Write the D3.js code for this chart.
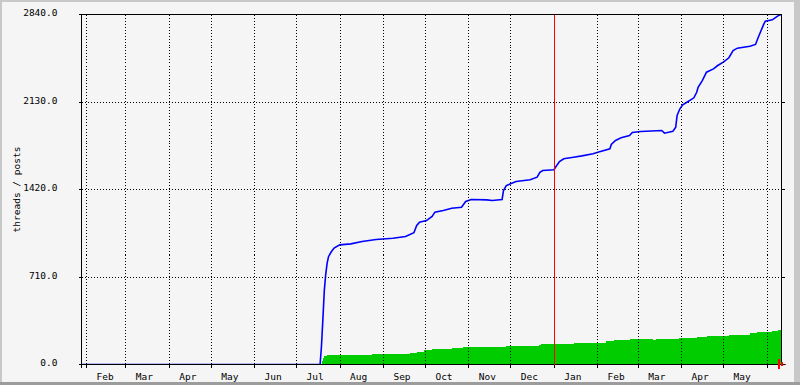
<!DOCTYPE html>
<html><head><meta charset="utf-8">
<script src="https://cdn.jsdelivr.net/npm/d3@7/dist/d3.min.js"></script>
<style>
html,body{margin:0;padding:0;background:#f5f5f5;}
svg{display:block;}
text{font-family:"DejaVu Sans Mono",monospace;font-size:9.5px;fill:#000;}
</style></head><body>
<svg id="c" width="800" height="385"></svg>
<script>
// ---- data ----
const yTicks = [0, 710, 1420, 2130, 2840];
const yTickLabels = ["0.0", "710.0", "1420.0", "2130.0", "2840.0"];
const monthLabels = ["Feb","Mar","Apr","May","Jun","Jul","Aug","Sep","Oct","Nov","Dec","Jan","Feb","Mar","Apr","May"];
const yTitle = "threads / posts";
const markerDate = "2008-01-01";

// blue line (posts)
const postDates = ["2007-01-20","2007-07-18","2007-07-19","2007-07-20","2007-07-21","2007-07-22","2007-07-23","2007-07-24","2007-07-26","2007-07-28",
 "2007-08-01","2007-08-09","2007-08-17","2007-08-27","2007-09-08","2007-09-17","2007-09-23","2007-09-25","2007-09-27","2007-10-02",
 "2007-10-06","2007-10-08","2007-10-14","2007-10-20","2007-10-27","2007-10-30","2007-11-03","2007-11-14","2007-11-18","2007-11-25",
 "2007-11-26","2007-11-28","2007-12-01","2007-12-05","2007-12-15","2007-12-20","2007-12-22","2007-12-24","2008-01-01","2008-01-03",
 "2008-01-05","2008-01-08","2008-01-15","2008-01-21","2008-01-29","2008-02-02","2008-02-10","2008-02-11","2008-02-14","2008-02-18",
 "2008-02-24","2008-02-26","2008-03-03","2008-03-18","2008-03-20","2008-03-26","2008-03-28","2008-03-29","2008-03-31","2008-04-02",
 "2008-04-05","2008-04-10","2008-04-12","2008-04-13","2008-04-16","2008-04-19","2008-04-24","2008-04-27","2008-05-01","2008-05-05",
 "2008-05-08","2008-05-11","2008-05-20","2008-05-24","2008-05-26","2008-05-28","2008-05-30","2008-05-31","2008-06-05","2008-06-07",
 "2008-06-09","2008-06-11"];
const postValues = [0,0,154,370,600,730,820,875,915,945,
 971,979,998,1014,1025,1039,1069,1128,1155,1168,
 1201,1236,1250,1268,1276,1323,1339,1336,1331,1339,
 1412,1452,1466,1485,1499,1520,1560,1574,1580,1615,
 1647,1669,1682,1693,1710,1725,1750,1785,1818,1840,
 1858,1882,1891,1899,1877,1893,1925,2020,2075,2107,
 2128,2164,2209,2250,2304,2372,2399,2426,2453,2489,
 2548,2567,2583,2597,2656,2710,2764,2786,2797,2813,
 2829,2837];

// green area (threads), step levels starting at each date
const threadDates = ["2007-01-20","2007-07-18","2007-07-19","2007-07-20","2007-07-21","2007-07-23","2007-08-24","2007-09-20","2007-09-25","2007-09-30",
 "2007-10-06","2007-10-20","2007-10-28","2007-11-28","2007-12-21","2007-12-23","2008-01-03","2008-01-15","2008-02-07","2008-02-13",
 "2008-02-24","2008-03-12","2008-03-14","2008-03-30","2008-04-12","2008-04-19","2008-05-05","2008-05-20","2008-05-25","2008-06-05",
 "2008-06-09","2008-06-14"];
const threadValues = [0,0,32,54,65,75,84,92,100,114,
 122,130,140,148,160,165,170,178,187,195,
 203,195,203,217,227,235,243,252,262,268,
 276,276];

// ---- layout ----
const parse = d3.timeParse("%Y-%m-%d");
const svg = d3.select("#c");
const W = 800, H = 385;
const L = 81.5, R = 781.5, T = 14.5, B = 364.5;
const t0 = new Date(2007, 0, 28, 13, 40);
const t1 = new Date(2007, 0, 28 + 500, 13, 40);
const x = d3.scaleTime().domain([t0, t1]).range([L, R]);
const y = d3.scaleLinear().domain([0, 2840]).range([B, T]);
const snapX = v => Math.floor(v + 0.3) + 0.5;

// background + 3D frame
svg.append("rect").attr("width", W).attr("height", H).attr("fill", "#f5f5f5");
svg.append("rect").attr("x",0).attr("y",0).attr("width",W).attr("height",2).attr("fill","#c8c8c8");
svg.append("rect").attr("x",0).attr("y",0).attr("width",2).attr("height",H).attr("fill","#c8c8c8");
svg.append("rect").attr("x",794).attr("y",0).attr("width",6).attr("height",H).attr("fill","#c8c8c8");
svg.append("rect").attr("x",0).attr("y",382).attr("width",W).attr("height",3).attr("fill","#9c9c9c");

svg.append("defs").append("clipPath").attr("id","clip")
  .append("rect").attr("x", L).attr("y", T - 1).attr("width", R - L + 0.5).attr("height", B - T + 1.5);

const threads = threadDates.map((d, i) => ({t: parse(d), v: threadValues[i]}));
const posts = postDates.map((d, i) => ({t: parse(d), v: postValues[i]}));

const plot = svg.append("g").attr("clip-path", "url(#clip)");
plot.append("path").datum(threads)
  .attr("fill", "#00cc00")
  .attr("shape-rendering", "crispEdges")
  .attr("d", d3.area().curve(d3.curveStepAfter).x(d => x(d.t)).y0(y(0)).y1(d => y(d.v)));

// grid
const months = x.ticks(d3.timeMonth.every(1)).filter(d => x(d) > L + 1 && x(d) < R - 1);
const grid = svg.append("g").attr("stroke", "#000").attr("stroke-width", 1)
  .attr("stroke-dasharray", "1,2").attr("shape-rendering", "crispEdges");
grid.selectAll("line.v").data(months).join("line")
  .attr("x1", d => snapX(x(d))).attr("x2", d => snapX(x(d)))
  .attr("y1", T).attr("y2", B);
grid.selectAll("line.h").data(yTicks.slice(1, -1)).join("line")
  .attr("x1", L).attr("x2", R)
  .attr("y1", d => Math.floor(y(d)) + 0.5).attr("y2", d => Math.floor(y(d)) + 0.5);

// blue line
plot.append("path").datum(posts)
  .attr("fill", "none").attr("stroke", "#0000ff").attr("stroke-width", 1.6)
  .attr("stroke-linejoin", "miter")
  .attr("d", d3.line().x(d => x(d.t)).y(d => y(d.v)));

// frame + ticks
const ax = svg.append("g").attr("stroke", "#000").attr("stroke-width", 1).attr("shape-rendering", "crispEdges");
ax.append("line").attr("x1", L).attr("x2", L).attr("y1", T).attr("y2", B + 3);
ax.append("line").attr("x1", R).attr("x2", R).attr("y1", T).attr("y2", B);
ax.append("line").attr("x1", L - 3).attr("x2", R).attr("y1", T).attr("y2", T);
ax.append("line").attr("x1", L - 3).attr("x2", R).attr("y1", B).attr("y2", B);
ax.selectAll("line.yt").data(yTicks).join("line")
  .attr("x1", L - 3).attr("x2", L)
  .attr("y1", d => Math.floor(y(d)) + 0.5).attr("y2", d => Math.floor(y(d)) + 0.5);
ax.selectAll("line.yr").data(yTicks.slice(0, -1)).join("line")
  .attr("x1", R).attr("x2", R + 3)
  .attr("y1", d => Math.floor(y(d)) + 0.5).attr("y2", d => Math.floor(y(d)) + 0.5);
ax.selectAll("line.xt").data(months).join("line")
  .attr("x1", d => snapX(x(d))).attr("x2", d => snapX(x(d)))
  .attr("y1", B - 2).attr("y2", B + 3);

// red marker line
const mx = snapX(x(parse(markerDate)));
svg.append("line").attr("x1", mx).attr("x2", mx).attr("y1", T).attr("y2", B)
  .attr("stroke", "#ff0000").attr("stroke-width", 1).attr("shape-rendering", "crispEdges");

// red axis arrow at end of x axis
const arrow = svg.append("g").attr("fill", "#ff0000");
arrow.append("rect").attr("x", R - 3.5).attr("y", B - 5.5).attr("width", 2).attr("height", 10);
arrow.append("rect").attr("x", R - 0.5).attr("y", B - 2.5).attr("width", 2).attr("height", 4);
arrow.append("rect").attr("x", R + 3.5).attr("y", B - 0.5).attr("width", 1).attr("height", 1);

// y labels
svg.selectAll("text.yl").data(yTicks).join("text")
  .attr("x", 57.5).attr("y", d => Math.floor(y(d)) + 2)
  .attr("text-anchor", "end")
  .text((d, i) => yTickLabels[i]);

// month labels (centered mid-month)
const labelMonths = d3.timeMonth.range(new Date(2007, 1, 1), new Date(2008, 5, 1));
svg.selectAll("text.ml").data(labelMonths).join("text")
  .attr("x", d => x(new Date(d.getFullYear(), d.getMonth(), 14, 12)))
  .attr("y", 380)
  .attr("text-anchor", "middle")
  .text((d, i) => monthLabels[i]);

// y title
svg.append("text")
  .attr("transform", `translate(20,${(T + B) / 2}) rotate(-90)`)
  .attr("text-anchor", "middle")
  .text(yTitle);
</script>
</body></html>
